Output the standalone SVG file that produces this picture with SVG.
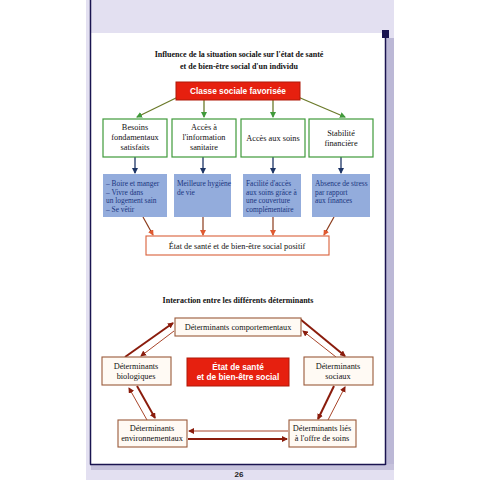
<svg xmlns="http://www.w3.org/2000/svg" width="480" height="480" viewBox="0 0 480 480">
<style>
.t{font-family:"Liberation Serif","Times New Roman",serif;font-size:8.3px;fill:#111;text-anchor:middle}
.tb{font-family:"Liberation Serif","Times New Roman",serif;font-size:8px;font-weight:bold;fill:#111;text-anchor:middle}
.bl{font-family:"Liberation Serif","Times New Roman",serif;font-size:7.4px;fill:#1a3580}
.w{font-family:"Liberation Sans",Arial,sans-serif;font-size:8.3px;font-weight:bold;fill:#fff;text-anchor:middle}
.g{fill:#fff;stroke:#3f9a3a;stroke-width:1.2}
.b{fill:#93acdc;stroke:none}
.r{fill:#e6200f;stroke:#b01808;stroke-width:1}
.d{fill:#fffaf4;stroke:#9a5a3a;stroke-width:1.1}
.ga{stroke:#6b7a2a;stroke-width:1.3;fill:none}
.ba{stroke:#1e3566;stroke-width:1.3;fill:none}
.ra{stroke:#8a3a1a;stroke-width:1.2;fill:none}
.k{stroke:#8a1c0c;stroke-width:2;fill:none}
.n{stroke:#a8452a;stroke-width:1;fill:none}
</style>
<defs>
<marker id="mg" markerWidth="6" markerHeight="6" refX="5" refY="3" orient="auto" markerUnits="userSpaceOnUse"><path d="M0,0 L6,3 L0,6 z" fill="#3f9a3a"/></marker>
<marker id="mb" markerWidth="6" markerHeight="6" refX="5" refY="3" orient="auto" markerUnits="userSpaceOnUse"><path d="M0,0 L6,3 L0,6 z" fill="#1e3566"/></marker>
<marker id="mr" markerWidth="6" markerHeight="6" refX="5" refY="3" orient="auto" markerUnits="userSpaceOnUse"><path d="M0,0 L6,3 L0,6 z" fill="#e05a30"/></marker>
<marker id="md" markerWidth="6" markerHeight="6" refX="5" refY="3" orient="auto" markerUnits="userSpaceOnUse"><path d="M0,0 L6,3 L0,6 z" fill="#8a1c0c"/></marker>
</defs>
<rect width="480" height="480" fill="#fff"/>
<rect x="86" y="0" width="308" height="480" fill="#e3e0f1"/>
<rect x="385" y="38" width="9" height="432" fill="#bcb8d6"/>
<rect x="91" y="464" width="303" height="6" fill="#c6c2dc"/>
<rect x="91" y="33" width="294" height="431" fill="#fff"/>
<line x1="90.5" y1="0" x2="90.5" y2="464.5" stroke="#1a1450" stroke-width="1.5"/>
<line x1="90" y1="464.5" x2="385.5" y2="464.5" stroke="#1a1450" stroke-width="1.5"/>
<line x1="385.5" y1="36" x2="385.5" y2="465" stroke="#1a1450" stroke-width="1.5"/>
<rect x="382" y="30" width="7" height="8" fill="#1a1450"/>
<text class="tb" x="239" y="57">Influence de la situation sociale sur l'état de santé</text>
<text class="tb" x="239" y="69">et de bien-être social d'un individu</text>
<g id="connectors">
<line class="ga" x1="178" y1="97" x2="137" y2="117" marker-end="url(#mg)"/>
<line class="ga" x1="204" y1="100" x2="204" y2="117" marker-end="url(#mg)"/>
<line class="ga" x1="273" y1="100" x2="273" y2="117" marker-end="url(#mg)"/>
<line class="ga" x1="298" y1="97" x2="345" y2="117" marker-end="url(#mg)"/>
<line class="ba" x1="135" y1="157" x2="135" y2="173" marker-end="url(#mb)"/>
<line class="ba" x1="203" y1="157" x2="203" y2="173" marker-end="url(#mb)"/>
<line class="ba" x1="273" y1="157" x2="273" y2="173" marker-end="url(#mb)"/>
<line class="ba" x1="341" y1="157" x2="341" y2="173" marker-end="url(#mb)"/>
<line class="ra" x1="143" y1="217" x2="153" y2="235" marker-end="url(#mr)"/>
<line class="ra" x1="203" y1="217" x2="203" y2="235" marker-end="url(#mr)"/>
<line class="ra" x1="273" y1="217" x2="273" y2="235" marker-end="url(#mr)"/>
<line class="ra" x1="334" y1="217" x2="324" y2="235" marker-end="url(#mr)"/>
<line class="k" x1="125" y1="357" x2="173" y2="323" marker-end="url(#md)"/>
<line class="n" x1="174" y1="331" x2="141" y2="356" marker-end="url(#md)"/>
<line class="k" x1="300" y1="319" x2="345" y2="356" marker-end="url(#md)"/>
<line class="n" x1="336" y1="357" x2="303" y2="331" marker-end="url(#md)"/>
<line class="k" x1="334" y1="386" x2="318" y2="419" marker-end="url(#md)"/>
<line class="n" x1="328" y1="420" x2="345" y2="387" marker-end="url(#md)"/>
<line class="n" x1="288" y1="431" x2="189" y2="431" marker-end="url(#md)"/>
<line class="k" x1="188" y1="439" x2="287" y2="439" marker-end="url(#md)"/>
<line class="n" x1="147" y1="420" x2="129" y2="388" marker-end="url(#md)"/>
<line class="k" x1="137" y1="386" x2="155" y2="418" marker-end="url(#md)"/>
</g>
<g id="classe"><rect class="r" x="176" y="82" width="124" height="18"/><text class="w" x="238" y="94">Classe sociale favorisée</text></g>
<g id="besoins"><rect class="g" x="103" y="119" width="64" height="38"/><text class="t" x="135" y="130">Besoins</text><text class="t" x="135" y="140">fondamentaux</text><text class="t" x="135" y="150">satisfaits</text></g>
<g id="info"><rect class="g" x="172" y="119" width="64" height="38"/><text class="t" x="204" y="130">Accès à</text><text class="t" x="204" y="140">l'information</text><text class="t" x="204" y="150">sanitaire</text></g>
<g id="soins"><rect class="g" x="241" y="119" width="64" height="38"/><text class="t" x="273" y="141">Accès aux soins</text></g>
<g id="stabilite"><rect class="g" x="309" y="119" width="64" height="38"/><text class="t" x="341" y="136">Stabilité</text><text class="t" x="341" y="146">financière</text></g>
<g id="b1"><rect class="b" x="103" y="174" width="64" height="43"/><text class="bl" x="106" y="186">– Boire et manger</text><text class="bl" x="106" y="194.5">– Vivre dans</text><text class="bl" x="106" y="203">un logement sain</text><text class="bl" x="106" y="211.5">– Se vêtir</text></g>
<g id="b2"><rect class="b" x="174" y="174" width="57" height="43"/><text class="bl" x="177" y="186">Meilleure hygiène</text><text class="bl" x="177" y="194.5">de vie</text></g>
<g id="b3"><rect class="b" x="243" y="174" width="58" height="43"/><text class="bl" x="246" y="186">Facilité d'accès</text><text class="bl" x="246" y="194.5">aux soins grâce à</text><text class="bl" x="246" y="203">une couverture</text><text class="bl" x="246" y="211.5">complémentaire</text></g>
<g id="b4"><rect class="b" x="312" y="174" width="58" height="43"/><text class="bl" x="315" y="186">Absence de stress</text><text class="bl" x="315" y="194.5">par rapport</text><text class="bl" x="315" y="203">aux finances</text></g>
<g id="etat1"><rect x="146" y="236" width="183" height="19" fill="#fff" stroke="#d9603a" stroke-width="1.1"/><text class="t" x="237" y="249" font-size="7.6">État de santé et de bien-être social positif</text></g>
<text class="tb" x="238" y="303">Interaction entre les différents déterminants</text>
<g id="comport"><rect class="d" x="175" y="318" width="126" height="18"/><text class="t" x="238" y="330">Déterminants comportementaux</text></g>
<g id="bio"><rect class="d" x="102" y="357" width="69" height="28"/><text class="t" x="136" y="369">Déterminants</text><text class="t" x="136" y="379">biologiques</text></g>
<g id="centre"><rect class="r" x="187" y="358" width="102" height="28"/><text class="w" x="238" y="369.5">État de santé</text><text class="w" x="238" y="380">et de bien-être social</text></g>
<g id="sociaux"><rect class="d" x="304" y="357" width="69" height="28"/><text class="t" x="338" y="369">Déterminants</text><text class="t" x="338" y="379">sociaux</text></g>
<g id="env"><rect class="d" x="118" y="420" width="69" height="27"/><text class="t" x="152" y="431">Déterminants</text><text class="t" x="152" y="441">environnementaux</text></g>
<g id="offre"><rect class="d" x="289" y="420" width="67" height="27"/><text class="t" x="322" y="431">Déterminants liés</text><text class="t" x="322" y="441">à l'offre de soins</text></g>
<text x="239" y="477" font-family="Liberation Sans,Arial,sans-serif" font-size="8" font-weight="bold" fill="#222" text-anchor="middle">26</text>
</svg>
